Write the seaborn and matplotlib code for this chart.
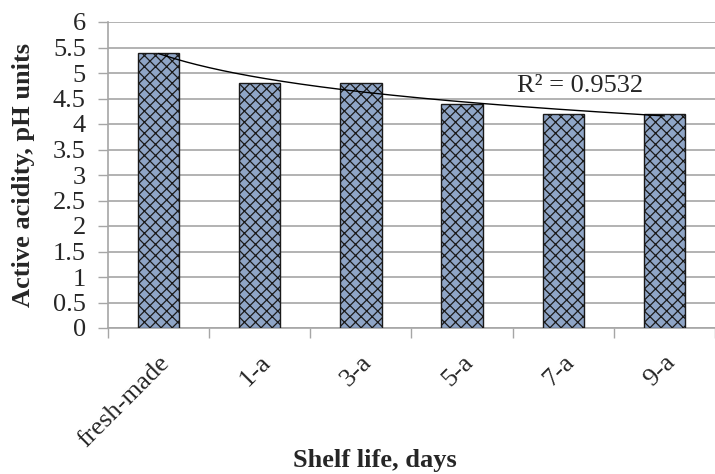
import numpy as np
import pandas as pd
import matplotlib
matplotlib.use("Agg")
import matplotlib.pyplot as plt
import seaborn as sns

# data
categories = ["fresh-made", "1-a", "3-a", "5-a", "7-a", "9-a"]
ph_values = [5.4, 4.8, 4.8, 4.4, 4.2, 4.2]
r2_label = "R² = 0.9532"
y_ticks = [0, 0.5, 1, 1.5, 2, 2.5, 3, 3.5, 4, 4.5, 5, 5.5, 6]
y_tick_labels = ["0", "0.5", "1", "1.5", "2", "2.5", "3", "3.5", "4", "4.5", "5", "5.5", "6"]

df = pd.DataFrame({"day": categories, "ph": ph_values})

sns.set_theme(style="white")
plt.rcParams["font.family"] = ["Liberation Serif", "DejaVu Serif"]
plt.rcParams["hatch.color"] = "#2c3a58"
plt.rcParams["hatch.linewidth"] = 0.9

fig = plt.figure(figsize=(7.15, 4.74), dpi=100)
ax = fig.add_axes([108 / 715, 146 / 474, 1 - 108 / 715, (328 - 22) / 474])

sns.barplot(data=df, x="day", y="ph", ax=ax, color="#8fa5c6", width=0.41,
            saturation=1, edgecolor="#1a1a1a", linewidth=1.0, zorder=3)
for bar in ax.patches:
    bar.set_hatch("xxx")

# logarithmic trendline like a spreadsheet one
x_idx = np.arange(1, len(ph_values) + 1)
coef = np.polyfit(np.log(x_idx), ph_values, 1)
xs = np.linspace(1, len(ph_values), 200)
ax.plot(xs - 1, coef[0] * np.log(xs) + coef[1], color="black", lw=1.0, zorder=4)
ax.text(4.17, 4.75, r2_label, fontsize=19, ha="center", va="center", zorder=5)

ax.set_ylim(0, 6)
ax.set_xlim(-0.5, -0.5 + (715 - 108) / 102.3)
ax.set_yticks(y_ticks)
ax.set_yticklabels(y_tick_labels, fontsize=19)
ax.yaxis.grid(True, color="#a6a6a6", lw=1.2, zorder=0)
ax.tick_params(axis="y", which="major", left=True, length=7, width=1.0,
               color="#a6a6a6", pad=9)

ax.set_xticks(range(len(categories)))
ax.set_xticklabels(categories, rotation=45, ha="right", rotation_mode="anchor",
                   fontsize=19)
ax.set_xticks(np.arange(-0.5, len(categories), 1.0), minor=True)
ax.tick_params(axis="x", which="major", length=0, pad=17)
ax.tick_params(axis="x", which="minor", bottom=True, length=7, width=1.0,
               color="#a6a6a6")

for side in ["top", "right"]:
    ax.spines[side].set_visible(False)
for side in ["left", "bottom"]:
    ax.spines[side].set_color("#a6a6a6")
    ax.spines[side].set_linewidth(1.2)

ax.set_xlabel("Shelf life, days", fontsize=19, fontweight="bold")
ax.set_ylabel("Active acidity, pH units", fontsize=19, fontweight="bold")
ax.xaxis.set_label_coords((375 - 108) / 607, (474 - 460 - 146) / 306)
ax.xaxis.label.set_va("center")
ax.yaxis.set_label_coords((24 - 108) / 607, 0.5)
ax.yaxis.label.set_va("center")

fig.savefig("out.png", dpi=100)
